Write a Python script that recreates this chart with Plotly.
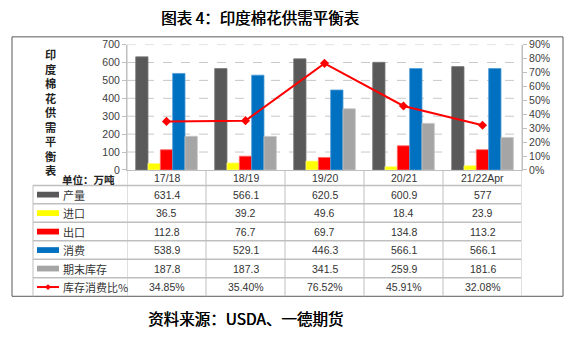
import plotly.graph_objects as go

W, H = 573, 337

categories = ["17/18", "18/19", "19/20", "20/21", "21/22Apr"]
production = [631.4, 566.1, 620.5, 600.9, 577]
imports = [36.5, 39.2, 49.6, 18.4, 23.9]
exports = [112.8, 76.7, 69.7, 134.8, 113.2]
consumption = [538.9, 529.1, 446.3, 566.1, 566.1]
ending_stocks = [187.8, 187.3, 341.5, 259.9, 181.6]
stock_ratio = [34.85, 35.40, 76.52, 45.91, 32.08]

series_names = ["产量", "进口", "出口", "消费", "期末库存"]
series_values = [production, imports, exports, consumption, ending_stocks]
series_colors = ["#595959", "#FFFF00", "#FF0000", "#0070C0", "#A5A5A5"]
series_edges = ["#7a7a7a", "#ffff80", "#ff6666", "#4a9ad6", "#c4c4c4"]
ratio_name = "库存消费比%"
ratio_color = "#FF0000"

left_ticks = list(range(0, 701, 100))
right_ticks = [i / 100 for i in range(0, 91, 10)]

FONT = "Noto Sans CJK SC, Liberation Sans, sans-serif"
NUMFONT = "Liberation Sans, Noto Sans CJK SC, sans-serif"


def px(x):
    return x / W


def py(y):
    return 1 - y / H


# layout geometry (pixels)
PL, PR, PT, PB = 127, 522, 40, 170
TABLE_BOTTOM = 301
HEADER_BOTTOM = 186
LEG_LEFT = 33
n_rows = 6
row_h = (TABLE_BOTTOM - HEADER_BOTTOM) / n_rows

fig = go.Figure()
for name, vals, col, edge in zip(series_names, series_values, series_colors, series_edges):
    fig.add_trace(go.Bar(
        x=categories, y=vals, name=name,
        marker=dict(color=col, line=dict(color=edge, width=0.8)),
        yaxis="y", showlegend=False,
    ))
fig.add_trace(go.Scatter(
    x=categories, y=[v / 100 for v in stock_ratio], name=ratio_name,
    mode="lines+markers", yaxis="y2",
    line=dict(color=ratio_color, width=2),
    marker=dict(symbol="diamond", size=7, color=ratio_color),
    showlegend=False,
))

shapes = []
annotations = []

# outer frame
shapes.append(dict(type="rect", xref="paper", yref="paper",
                   x0=px(12), x1=px(563), y0=py(301), y1=py(32),
                   line=dict(color="#595959", width=1), layer="above"))

# horizontal gridlines (dashed)
for t in left_ticks[1:]:
    shapes.append(dict(type="line", xref="paper", yref="y",
                       x0=px(PL), x1=px(PR), y0=t, y1=t,
                       line=dict(color="#c8c8c8", width=1, dash="dash"), layer="below"))

line_col = "#bfbfbf"
# table vertical lines
n = len(categories)
for k in range(n + 1):
    xv = k - 0.5
    y_top = py(PB) if 0 < k < n else py(PT)
    shapes.append(dict(type="line", xref="x", yref="paper",
                       x0=xv, x1=xv, y0=y_top, y1=py(TABLE_BOTTOM),
                       line=dict(color=line_col, width=1)))
# legend column left line
shapes.append(dict(type="line", xref="paper", yref="paper",
                   x0=px(LEG_LEFT), x1=px(LEG_LEFT), y0=py(HEADER_BOTTOM), y1=py(TABLE_BOTTOM),
                   line=dict(color=line_col, width=1)))
# table horizontal lines
for i in range(n_rows):
    yy = HEADER_BOTTOM + i * row_h
    shapes.append(dict(type="line", xref="paper", yref="paper",
                       x0=px(LEG_LEFT), x1=px(PR - 1), y0=py(yy), y1=py(yy),
                       line=dict(color=line_col, width=1.5)))

# header labels
for k, c in enumerate(categories):
    annotations.append(dict(x=k, y=py((PB + HEADER_BOTTOM) / 2), xref="x", yref="paper",
                            text=c, showarrow=False, xanchor="center", yanchor="middle",
                            font=dict(family=NUMFONT, size=10.5, color="#333333")))

# table rows
rows = [(nm, vals, col) for nm, vals, col in zip(series_names, series_values, series_colors)]
for i, (nm, vals, col) in enumerate(rows):
    yc = HEADER_BOTTOM + row_h * (i + 0.5)
    shapes.append(dict(type="rect", xref="paper", yref="paper",
                       x0=px(37), x1=px(59), y0=py(yc + 3), y1=py(yc - 3),
                       fillcolor=col, line=dict(width=0)))
    annotations.append(dict(x=px(61), y=py(yc), xref="paper", yref="paper", text=nm,
                            showarrow=False, xanchor="left", yanchor="middle",
                            font=dict(family=FONT, size=11, color="#333333")))
    for k, v in enumerate(vals):
        annotations.append(dict(x=k, y=py(yc), xref="x", yref="paper", text=f"{v:g}",
                                showarrow=False, xanchor="center", yanchor="middle",
                                font=dict(family=NUMFONT, size=10.5, color="#333333")))
# ratio row
yc = HEADER_BOTTOM + row_h * (n_rows - 0.5)
shapes.append(dict(type="line", xref="paper", yref="paper",
                   x0=px(37), x1=px(59), y0=py(yc), y1=py(yc),
                   line=dict(color=ratio_color, width=2)))
shapes.append(dict(type="path", xref="paper", yref="paper",
                   path=f"M {px(48)} {py(yc-3)} L {px(51)} {py(yc)} L {px(48)} {py(yc+3)} L {px(45)} {py(yc)} Z",
                   fillcolor=ratio_color, line=dict(width=0)))
annotations.append(dict(x=px(61), y=py(yc), xref="paper", yref="paper", text=ratio_name,
                        showarrow=False, xanchor="left", yanchor="middle",
                        font=dict(family=FONT, size=11, color="#333333")))
for k, v in enumerate(stock_ratio):
    annotations.append(dict(x=k, y=py(yc), xref="x", yref="paper", text=f"{v:.2f}%",
                            showarrow=False, xanchor="center", yanchor="middle",
                            font=dict(family=NUMFONT, size=10.5, color="#333333")))

# vertical title (one stacked text)
vtitle = "印度棉花供需平衡表"
annotations.append(dict(x=px(50), y=py(110), xref="paper", yref="paper",
                        text="<br>".join(vtitle),
                        showarrow=False, xanchor="center", yanchor="middle", align="center",
                        font=dict(family=FONT, size=11.2, color="#222222", weight="bold")))
annotations.append(dict(x=px(88), y=py(180), xref="paper", yref="paper", text="单位：万吨",
                        showarrow=False, xanchor="center", yanchor="middle",
                        font=dict(family=FONT, size=10.5, color="#222222", weight="bold")))

# chart title and source
annotations.append(dict(x=px(260), y=py(11), xref="paper", yref="paper",
                        text="图表 4：印度棉花供需平衡表", showarrow=False,
                        xanchor="center", yanchor="middle",
                        font=dict(family=FONT, size=15.5, color="#000000",
                                  shadow="0.5px 0px 0px #000000")))
annotations.append(dict(x=px(245), y=py(324), xref="paper", yref="paper",
                        text="资料来源：USDA、一德期货", showarrow=False,
                        xanchor="center", yanchor="middle",
                        font=dict(family=FONT, size=15.5, color="#000000",
                                  shadow="0.5px 0px 0px #000000")))

fig.update_layout(
    width=W, height=H, margin=dict(l=0, r=0, t=0, b=0),
    paper_bgcolor="white", plot_bgcolor="white",
    barmode="group", bargap=0.22, bargroupgap=0,
    xaxis=dict(domain=[px(PL), px(PR)], range=[-0.5, n - 0.5], showticklabels=False,
               showline=True, linecolor="#bfbfbf", linewidth=1, ticks="", showgrid=False,
               fixedrange=True),
    yaxis=dict(domain=[py(PB), py(PT)], range=[0, 700], tickvals=left_ticks,
               showgrid=False, zeroline=False, showline=True, linecolor="#bfbfbf",
               ticks="outside", ticklen=4, tickcolor="#bfbfbf",
               tickfont=dict(family=NUMFONT, size=10.5, color="#404040")),
    yaxis2=dict(domain=[py(PB), py(PT)], overlaying="y", side="right", anchor="x",
                range=[0, 0.9], tickvals=right_ticks, tickformat=".0%",
                showgrid=False, zeroline=False, showline=True, linecolor="#bfbfbf",
                ticks="outside", ticklen=4, tickcolor="#bfbfbf",
                tickfont=dict(family=NUMFONT, size=10.5, color="#404040")),
    shapes=shapes, annotations=annotations,
)

fig.write_html("out.html")
